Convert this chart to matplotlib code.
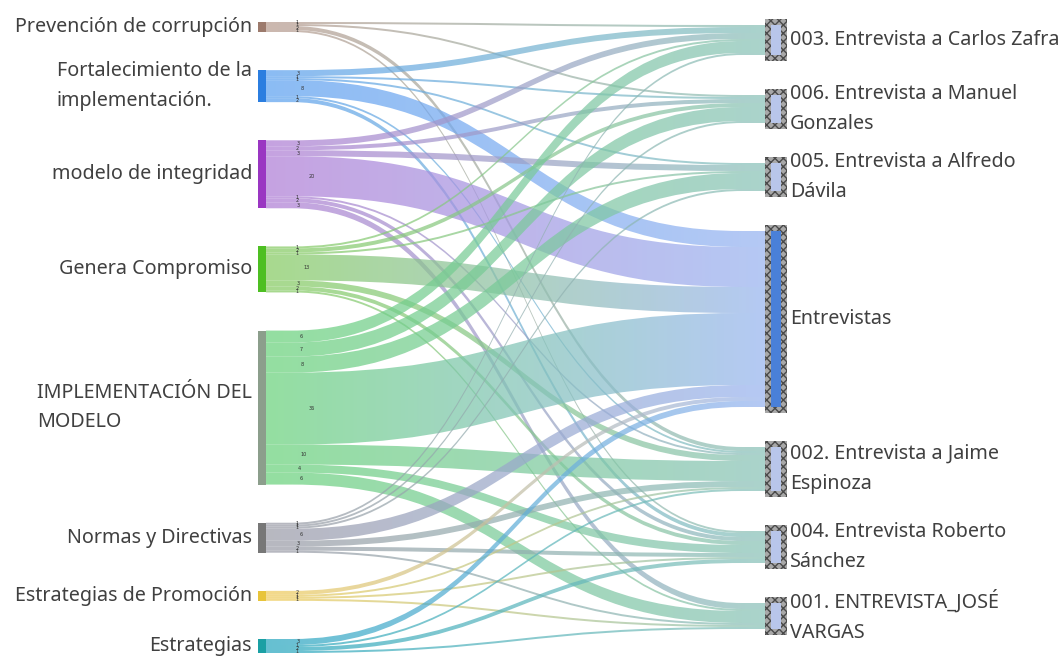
import matplotlib
matplotlib.use("Agg")
import matplotlib.pyplot as plt
import numpy as np
from matplotlib.path import Path
from matplotlib.patches import PathPatch, Rectangle
from matplotlib.colors import to_rgb

# nodes on the left (codes) and on the right (documents)
sources = ["Prevención de corrupción", "Fortalecimiento de la\nimplementación.",
           "modelo de integridad", "Genera Compromiso",
           "IMPLEMENTACIÓN DEL\nMODELO", "Normas y Directivas",
           "Estrategias de Promoción", "Estrategias"]
targets = ["003. Entrevista a Carlos Zafra", "006. Entrevista a Manuel\nGonzales",
           "005. Entrevista a Alfredo\nDávila", "Entrevistas",
           "002. Entrevista a Jaime\nEspinoza", "004. Entrevista Roberto\nSánchez",
           "001. ENTREVISTA_JOSÉ\nVARGAS"]

# co-occurrence counts, one list per code, in target order
prevencion = [1, 1, 0, 0, 2, 1, 0]
fortalecimiento = [3, 1, 1, 8, 1, 2, 0]
modelo = [3, 2, 3, 20, 1, 2, 3]
genera = [1, 2, 1, 13, 3, 2, 1]
implementacion = [6, 7, 8, 36, 10, 4, 6]
normas = [1, 1, 1, 6, 3, 2, 1]
promocion = [0, 0, 0, 2, 1, 1, 1]
estrategias = [0, 0, 0, 3, 1, 2, 1]

node_colors = ["#9c7a6c", "#2b7ee0", "#9a36c2", "#4dbf22",
               "#8c9e8c", "#777777", "#e8c43a", "#1aa0a4"]
link_colors = ["#b89c90", "#5ea2f0", "#b07ed6", "#86cc62",
               "#6ad27c", "#9c9ca8", "#f0cc5c", "#2aa8c0"]
doc_link_color = "#8ac2b8"
main_link_color = "#98b4f0"

flows = np.array([prevencion, fortalecimiento, modelo, genera,
                  implementacion, normas, promocion, estrategias], dtype=float)

W, H = 1064, 658
fig = plt.figure(figsize=(W / 100, H / 100), dpi=100)
ax = fig.add_axes([0, 0, 1, 1])
ax.set_xlim(0, W)
ax.set_ylim(H, 0)
ax.axis("off")

scale = 2.0
left_top, left_bot = 22, 653
right_top, right_bot = 25, 629

src_tot = flows.sum(axis=1) * scale
tgt_tot = flows.sum(axis=0) * scale
gap_l = (left_bot - left_top - src_tot.sum()) / (len(sources) - 1)
gap_r = (right_bot - right_top - tgt_tot.sum()) / (len(targets) - 1)
src_y = left_top + np.concatenate([[0], np.cumsum(src_tot + gap_l)[:-1]])
tgt_y = right_top + np.concatenate([[0], np.cumsum(tgt_tot + gap_r)[:-1]])

x0, xa, xb, x1 = 266, 292, 742, 768
src_off = src_y.copy()
tgt_off = tgt_y.copy()
ramp = np.linspace(0, 1, 256)[:, None]

for i in range(len(sources)):
    for j in range(len(targets)):
        v = flows[i, j]
        if v <= 0:
            continue
        w = v * scale
        ys, yt = src_off[i], tgt_off[j]
        src_off[i] += w
        tgt_off[j] += w
        xm = (xa + xb) / 2
        verts = [(x0, ys), (xa, ys), (xm, ys), (xm, yt), (xb, yt), (x1, yt),
                 (x1, yt + w), (xb, yt + w), (xm, yt + w), (xm, ys + w),
                 (xa, ys + w), (x0, ys + w), (x0, ys)]
        codes = [Path.MOVETO, Path.LINETO, Path.CURVE4, Path.CURVE4, Path.CURVE4,
                 Path.LINETO, Path.LINETO, Path.LINETO, Path.CURVE4, Path.CURVE4,
                 Path.CURVE4, Path.LINETO, Path.CLOSEPOLY]
        patch = PathPatch(Path(verts, codes), facecolor="none", edgecolor="none")
        ax.add_patch(patch)
        c0 = np.array(to_rgb(link_colors[i]))
        c1 = np.array(to_rgb(main_link_color if j == 3 else doc_link_color))
        grad = np.ones((1, 256, 4))
        grad[0, :, :3] = c0 * (1 - ramp) + c1 * ramp
        grad[0, :, 3] = 0.72
        im = ax.imshow(grad, extent=(x0, x1, H, 0), aspect="auto",
                       interpolation="bilinear", zorder=1)
        im.set_clip_path(patch)
        ax.text(296 + min(v, 20) * 0.8, ys + w / 2, f"{int(v)}", fontsize=3.5,
                color="#333333", ha="center", va="center", zorder=3)

ax.set_xlim(0, W)
ax.set_ylim(H, 0)

# left nodes
for i, name in enumerate(sources):
    ax.add_patch(Rectangle((258, src_y[i]), 8, src_tot[i],
                           facecolor=node_colors[i], edgecolor="none", zorder=2))
    ax.text(252, src_y[i] + src_tot[i] / 2, name, ha="right", va="center",
            multialignment="left", fontsize=14.2, color="#404040",
            family="Noto Sans", linespacing=1.65)

# right nodes: hatched frame with a thin bar inside
for j, name in enumerate(targets):
    ax.add_patch(Rectangle((765, tgt_y[j] - 6), 22, tgt_tot[j] + 12,
                           facecolor="#a8a8a8", edgecolor="#4a4a4a", hatch="xxxx",
                           linewidth=0, zorder=2))
    ax.add_patch(Rectangle((771, tgt_y[j]), 10, tgt_tot[j],
                           facecolor="#4a80d8" if j == 3 else "#b8c6ea",
                           edgecolor="none", zorder=3))
    ax.text(790, tgt_y[j] + tgt_tot[j] / 2, name, ha="left", va="center",
            fontsize=14.2, color="#404040", family="Noto Sans", linespacing=1.65)

fig.savefig("out.png", dpi=100)
